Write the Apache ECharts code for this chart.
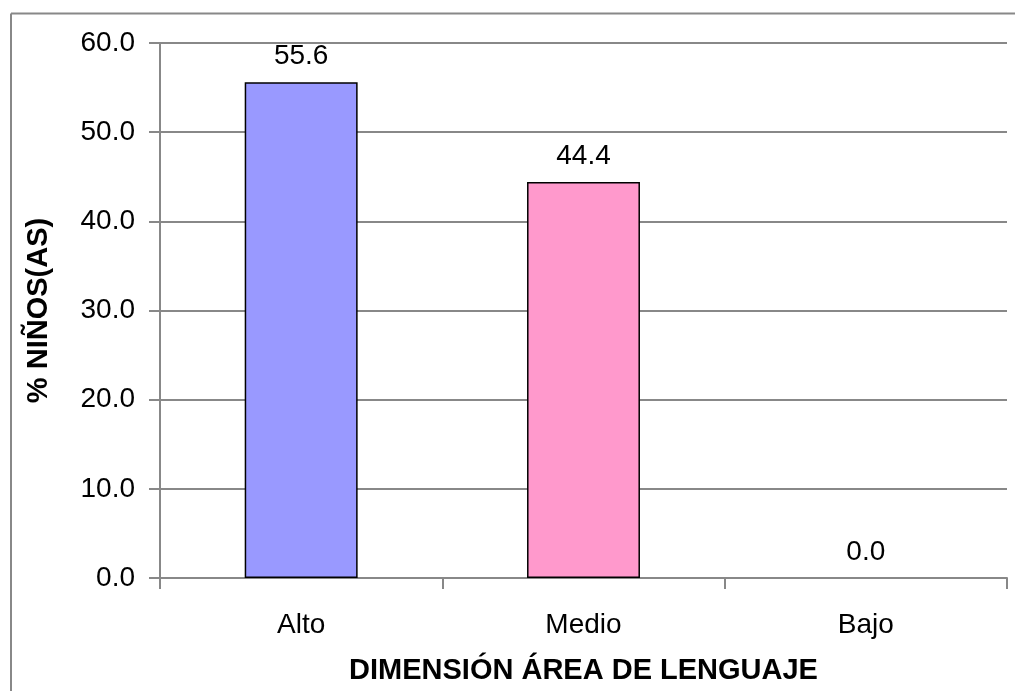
<!DOCTYPE html>
<html>
<head>
<meta charset="utf-8">
<script src="https://cdn.jsdelivr.net/npm/echarts@6/dist/echarts.min.js"></script>
<style>html,body{margin:0;padding:0;background:#fff;overflow:hidden}#c{width:1015px;height:691px}</style>
</head>
<body>
<div id="c"></div>
<script>
var categories = ['Alto', 'Medio', 'Bajo'];
var values = [55.6, 44.4, 0.0];
var barColors = ['#9999FF', '#FF99CC', '#CCCCCC'];
var yTitle = '% NIÑOS(AS)';
var xTitle = 'DIMENSIÓN ÁREA DE LENGUAJE';

var chart = echarts.init(document.getElementById('c'));
var font = 'Liberation Sans, Arial, sans-serif';
chart.setOption({
  animation: false,
  backgroundColor: '#fff',
  graphic: [{
    type: 'line', z: -1, silent: true,
    shape: { x1: 11, y1: 13.5, x2: 1100, y2: 13.5 },
    style: { stroke: '#888888', lineWidth: 2 }
  }, {
    type: 'line', z: -1, silent: true,
    shape: { x1: 11, y1: 13.5, x2: 11, y2: 700 },
    style: { stroke: '#888888', lineWidth: 2 }
  }],
  grid: { left: 160, right: 8, top: 43, bottom: 113, containLabel: false, outerBoundsMode: 'none' },
  xAxis: {
    type: 'category',
    data: categories,
    axisLine: { lineStyle: { color: '#888888', width: 2 } },
    axisTick: { show: true, length: 11, lineStyle: { color: '#888888', width: 2 } },
    axisLabel: { color: '#000', fontFamily: font, fontSize: 28, margin: 33 },
    name: xTitle,
    nameLocation: 'middle',
    nameGap: 78,
    nameTextStyle: { color: '#000', fontFamily: font, fontSize: 29, fontWeight: 'bold' }
  },
  yAxis: {
    type: 'value',
    min: 0, max: 60, interval: 10,
    axisLine: { show: true, lineStyle: { color: '#888888', width: 2 } },
    axisTick: { show: true, length: 11, lineStyle: { color: '#888888', width: 2 } },
    splitLine: { show: true, lineStyle: { color: '#888888', width: 2 } },
    axisLabel: { color: '#000', fontFamily: font, fontSize: 28, margin: 25,
      formatter: function (v) { return v.toFixed(1); } },
    name: yTitle,
    nameLocation: 'middle',
    nameGap: 107,
    nameRotate: 90,
    nameTextStyle: { color: '#000', fontFamily: font, fontSize: 29, fontWeight: 'bold' }
  },
  series: [{
    type: 'bar',
    barWidth: '40%',
    data: values.map(function (v, i) {
      return { value: v, itemStyle: { color: barColors[i], borderWidth: v === 0 ? 0 : 1.5 } };
    }),
    itemStyle: { borderColor: '#000', borderWidth: 1.5 },
    label: {
      show: true, position: 'top', distance: 12,
      color: '#000', fontFamily: font, fontSize: 28,
      formatter: function (p) { return p.value.toFixed(1); }
    }
  }]
});
</script>
</body>
</html>
